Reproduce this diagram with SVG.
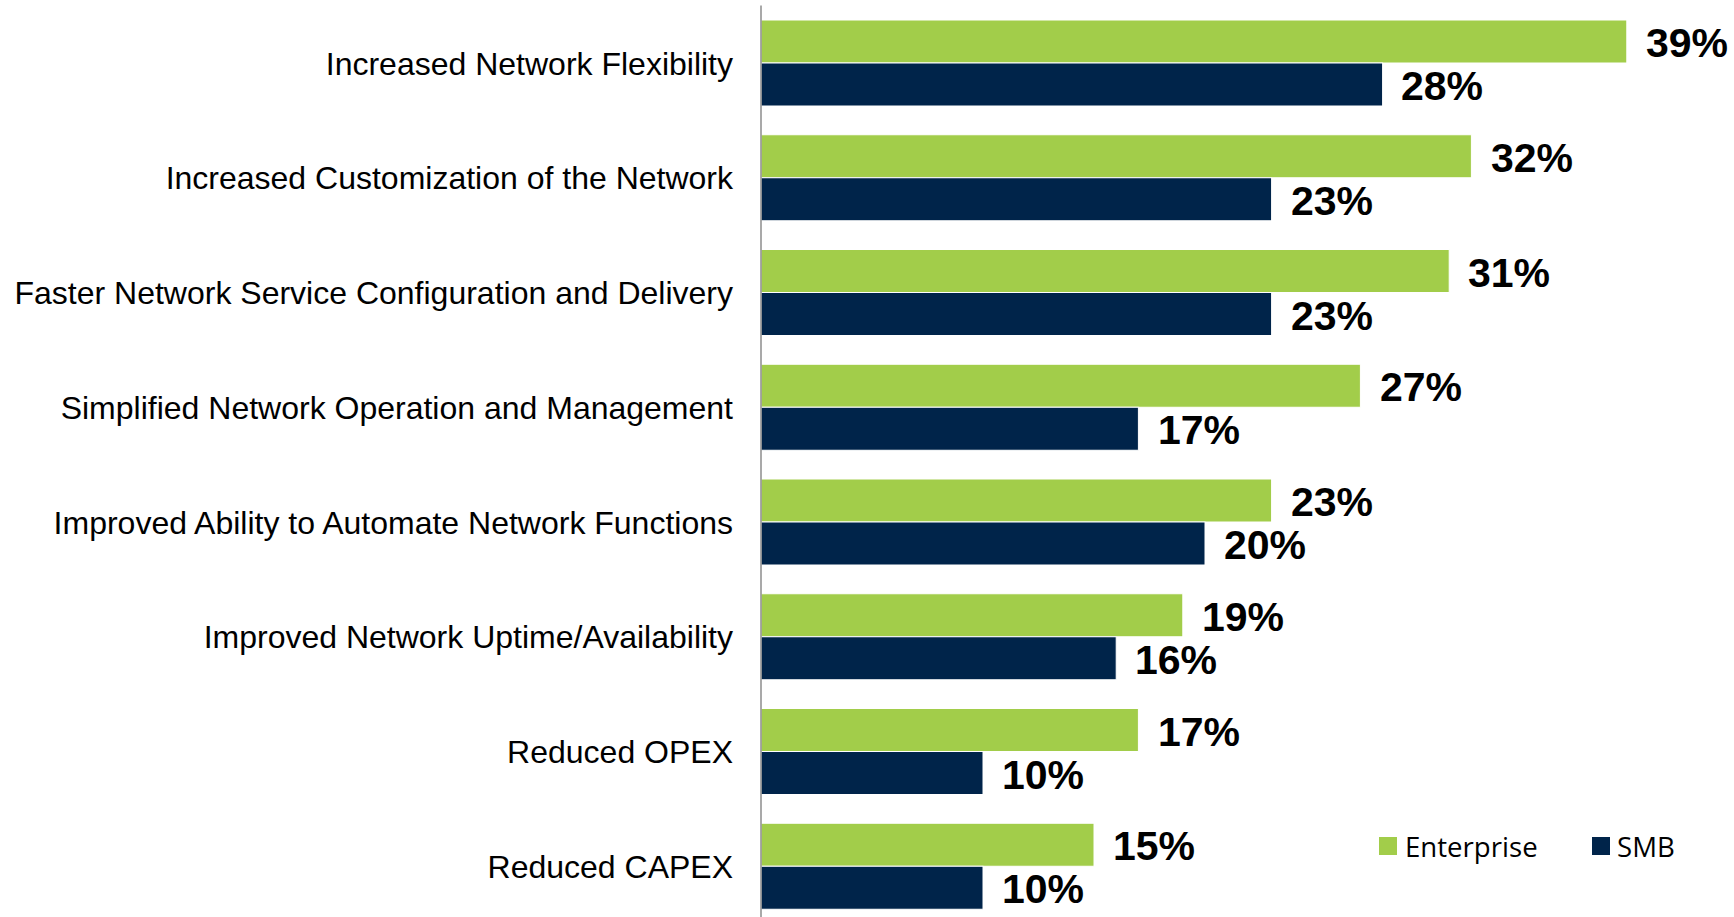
<svg xmlns="http://www.w3.org/2000/svg" width="1734" height="917" viewBox="0 0 1734 917">
<style>
.cat{font-family:"Liberation Sans",Arial,sans-serif;font-size:32px;fill:#000;text-anchor:end}
.val{font-family:"Liberation Sans",Arial,sans-serif;font-size:41px;font-weight:bold;fill:#000}
.ent{fill:#A2CD4A;stroke:#fff;stroke-width:1}
.smb{fill:#00244A;stroke:#fff;stroke-width:1}
.leg{font-family:"Open Sans",sans-serif;font-size:27.6px;fill:#000}
</style>
<rect width="1734" height="917" fill="#fff"/>
<g id="row1">
<rect class="ent" x="761" y="20" width="865.8" height="43"/>
<rect class="smb" x="761" y="63" width="621.6" height="43"/>
<text class="cat" x="733" y="74.5">Increased Network Flexibility</text>
<text class="val" x="1646" y="57">39%</text>
<text class="val" x="1401" y="100">28%</text>
</g>
<g id="row2">
<rect class="ent" x="761" y="134.75" width="710.4" height="43"/>
<rect class="smb" x="761" y="177.75" width="510.6" height="43"/>
<text class="cat" x="733" y="189.25">Increased Customization of the Network</text>
<text class="val" x="1491" y="171.75">32%</text>
<text class="val" x="1291" y="214.75">23%</text>
</g>
<g id="row3">
<rect class="ent" x="761" y="249.5" width="688.2" height="43"/>
<rect class="smb" x="761" y="292.5" width="510.6" height="43"/>
<text class="cat" x="733" y="304">Faster Network Service Configuration and Delivery</text>
<text class="val" x="1468" y="286.5">31%</text>
<text class="val" x="1291" y="329.5">23%</text>
</g>
<g id="row4">
<rect class="ent" x="761" y="364.25" width="599.4" height="43"/>
<rect class="smb" x="761" y="407.25" width="377.4" height="43"/>
<text class="cat" x="733" y="418.75">Simplified Network Operation and Management</text>
<text class="val" x="1380" y="401.25">27%</text>
<text class="val" x="1158" y="444.25">17%</text>
</g>
<g id="row5">
<rect class="ent" x="761" y="479" width="510.6" height="43"/>
<rect class="smb" x="761" y="522" width="444" height="43"/>
<text class="cat" x="733" y="533.5">Improved Ability to Automate Network Functions</text>
<text class="val" x="1291" y="516">23%</text>
<text class="val" x="1224" y="559">20%</text>
</g>
<g id="row6">
<rect class="ent" x="761" y="593.75" width="421.8" height="43"/>
<rect class="smb" x="761" y="636.75" width="355.2" height="43"/>
<text class="cat" x="733" y="648.25">Improved Network Uptime/Availability</text>
<text class="val" x="1202" y="630.75">19%</text>
<text class="val" x="1135" y="673.75">16%</text>
</g>
<g id="row7">
<rect class="ent" x="761" y="708.5" width="377.4" height="43"/>
<rect class="smb" x="761" y="751.5" width="222" height="43"/>
<text class="cat" x="733" y="763">Reduced OPEX</text>
<text class="val" x="1158" y="745.5">17%</text>
<text class="val" x="1002" y="788.5">10%</text>
</g>
<g id="row8">
<rect class="ent" x="761" y="823.25" width="333" height="43"/>
<rect class="smb" x="761" y="866.25" width="222" height="43"/>
<text class="cat" x="733" y="877.75">Reduced CAPEX</text>
<text class="val" x="1113" y="860.25">15%</text>
<text class="val" x="1002" y="903.25">10%</text>
</g>
<g id="axis">
<line x1="761" y1="5.5" x2="761" y2="917" stroke="#8C8C8C" stroke-width="1.5"/>
</g>
<g id="legend">
<rect x="1379" y="837" width="18" height="18" fill="#A2CD4A"/>
<text class="leg" x="1405" y="857">Enterprise</text>
<rect x="1592" y="837" width="18" height="18" fill="#00244A"/>
<text class="leg" x="1617" y="857">SMB</text>
</g>
</svg>
